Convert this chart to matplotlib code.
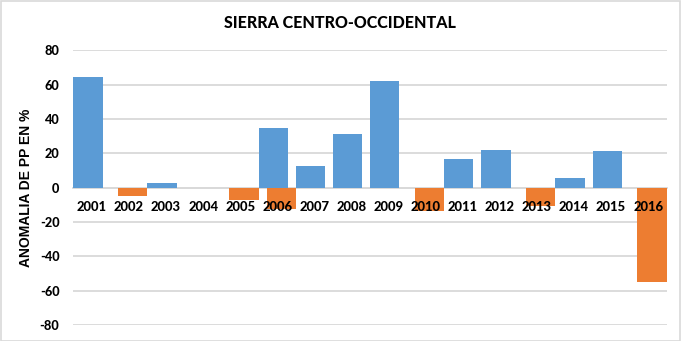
import numpy as np
import matplotlib
matplotlib.use("Agg")
import matplotlib.pyplot as plt
from matplotlib.patches import Rectangle

# Annual precipitation anomaly (%) for the Sierra Centro-Occidental region
years = ["2001", "2002", "2003", "2004", "2005", "2006", "2007", "2008",
         "2009", "2010", "2011", "2012", "2013", "2014", "2015", "2016"]
positive = [64.3, np.nan, 2.6, np.nan, np.nan, 34.5, 12.9, 31.0,
            62.0, np.nan, 16.4, 22.2, np.nan, 5.8, 21.6, np.nan]
negative = [np.nan, -5.1, np.nan, np.nan, -7.4, -12.7, np.nan, np.nan,
            np.nan, -13.6, np.nan, np.nan, -10.7, np.nan, np.nan, -54.8]
y_ticks = [-80, -60, -40, -20, 0, 20, 40, 60, 80]

BLUE = "#5B9BD5"
ORANGE = "#ED7D31"
GRID = "#D9D9D9"
FONT = ["Lato", "DejaVu Sans"]
WEIGHT = "black"

fig = plt.figure(figsize=(6.81, 3.41), dpi=100)
ax = fig.add_axes([73.3 / 681, 1 - 325 / 341, (666.7 - 73.3) / 681, (325 - 50.3) / 341])

x = np.arange(len(years))
bar_w = 0.79
shift = 0.5 - bar_w / 2
ax.bar(x - shift, positive, width=bar_w, color=BLUE, zorder=2)
ax.bar(x + shift, negative, width=bar_w, color=ORANGE, zorder=2)

for side in ("left", "right", "top"):
    ax.spines[side].set_visible(False)
ax.spines["bottom"].set_position(("data", 0))
ax.spines["bottom"].set_color(GRID)
ax.spines["bottom"].set_linewidth(1.3)
ax.spines["bottom"].set_zorder(1)

ax.set_xlim(-0.5, len(years) - 0.5)
ax.set_ylim(-80, 80)
ax.set_yticks(y_ticks)
ax.set_yticklabels([str(v) for v in y_ticks], fontfamily=FONT,
                   fontweight=WEIGHT, fontsize=9.2)
ax.set_xticks(x)
ax.set_xticklabels(years, fontfamily=FONT, fontweight=WEIGHT, fontsize=9.4)

ax.grid(axis="y", color=GRID, linewidth=1.3, zorder=0)
ax.set_axisbelow(True)
ax.tick_params(axis="both", length=0)
ax.tick_params(axis="x", pad=9.5)
ax.tick_params(axis="y", pad=10)
ax.xaxis.set_zorder(3)

ax.set_ylabel("ANOMALIA DE PP EN %", fontfamily="Liberation Sans",
              fontweight="bold", fontsize=10)
ax.yaxis.set_label_coords(-(73.3 - 33) / (666.7 - 73.3), 0.5)

fig.text(340 / 681, 1 - 23.5 / 341, "SIERRA CENTRO-OCCIDENTAL", ha="center",
         va="center", fontfamily=FONT, fontweight=WEIGHT, fontsize=11.5)

fig.patches.append(Rectangle((0.5 / 681, 0.5 / 341), 679.5 / 681, 339.5 / 341,
                             transform=fig.transFigure, fill=False,
                             edgecolor="#D9D9D9", linewidth=1.2))

fig.savefig("out.png", dpi=100, facecolor="white")
